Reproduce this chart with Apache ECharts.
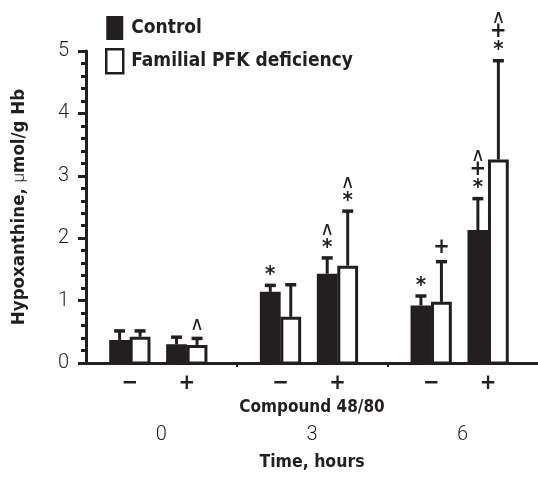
<!DOCTYPE html>
<html>
<head>
<meta charset="utf-8">
<script src="https://cdn.jsdelivr.net/npm/echarts@6/dist/echarts.min.js"></script>
<style>
html,body{margin:0;padding:0;background:#fff;}
#chart{width:538px;height:477px;}
</style>
</head>
<body>
<div id="chart"></div>
<script>
// ---- data ----
const timeLabels = ['0', '3', '6'];
const treatmentLabels = ['\u2212', '+'];
const yTickLabels = ['0', '1', '2', '3', '4', '5'];
const controlMean = [0.37, 0.30, 1.14, 1.43, 0.92, 2.13];
const controlErr  = [0.16, 0.13, 0.12, 0.27, 0.17, 0.52];
const pfkMean     = [0.42, 0.29, 0.74, 1.56, 0.98, 3.26];
const pfkErr      = [0.11, 0.12, 0.53, 0.89, 0.66, 1.60];
// significance marks, listed from bottom to top
const controlMarks = [[], [], ['*'], ['*', '^'], ['*'], ['*', '+', '^']];
const pfkMarks     = [[], ['^'], [], ['*', '^'], ['+'], ['*', '+', '^']];

// ---- layout constants ----
const FONT = '"Liberation Sans Narrow", "Arial Narrow", "DejaVu Sans Condensed", sans-serif';
const LIGHT = 'Roboto, "DejaVu Sans Condensed", sans-serif';
const INK = '#231f20';
const SUB_POS = [0.291, 0.669];   // position of -/+ inside each time group (group width = 1)
const BAR_HALF = 0.069;           // half bar width in axis units
const BAR_SHIFT = 0.068;          // control left, pfk right of sub position

function subPos(i) {
  return Math.floor(i / 2) + SUB_POS[i % 2];
}
function buildData(mean, err, shift) {
  return mean.map((v, i) => [subPos(i) + shift, v, err[i], i]);
}

function makeRender(marks, fill) {
  return function (params, api) {
    const x = api.value(0), y = api.value(1), e = api.value(2), idx = api.value(3);
    const p0 = api.coord([x - BAR_HALF, 0]);
    const p1 = api.coord([x + BAR_HALF, y]);
    const top = api.coord([x, y + e]);
    const cx = (p0[0] + p1[0]) / 2;
    const children = [
      {
        type: 'rect',
        shape: { x: p0[0] + 1.5, y: p1[1] + 1.5, width: p1[0] - p0[0] - 3, height: p0[1] - p1[1] - 1.5 },
        style: { fill: fill, stroke: INK, lineWidth: 3 }
      },
      {
        type: 'line',
        shape: { x1: cx, y1: p1[1], x2: cx, y2: top[1] },
        style: { stroke: INK, lineWidth: 3 }
      },
      {
        type: 'line',
        shape: { x1: cx - 5.5, y1: top[1] + 1, x2: cx + 5.5, y2: top[1] + 1 },
        style: { stroke: INK, lineWidth: 3.5 }
      }
    ];
    const m = marks[idx] || [];
    m.forEach((s, k) => {
      const isCaret = s === '^';
      children.push({
        type: 'text',
        style: {
          text: isCaret ? '\u2227' : s,
          x: cx,
          y: top[1] - 13 - k * 15 + (s === '*' ? 4 : 0) + (isCaret ? 1 : 0),
          align: 'center',
          verticalAlign: 'middle',
          fill: INK,
          fontFamily: isCaret ? '"DejaVu Sans", sans-serif' : FONT,
          fontWeight: isCaret ? 'normal' : 'bold',
          fontSize: isCaret ? 19 : 22
        }
      });
    });
    return { type: 'group', children: children };
  };
}

const chart = echarts.init(document.getElementById('chart'));
chart.setOption({
  backgroundColor: '#fff',
  animation: false,
  textStyle: { fontFamily: FONT, color: INK },
  grid: { left: 86, right: 0, top: 51, bottom: 114, containLabel: false },
  legend: {
    orient: 'vertical',
    left: 105,
    top: 16,
    padding: 0,
    itemWidth: 17,
    itemHeight: 24,
    itemGap: 8,
    icon: 'rect',
    textStyle: { fontFamily: FONT, fontWeight: 'bold', fontSize: 19, color: INK, padding: [0, 0, 0, 3] },
    data: [
      { name: 'Control', itemStyle: { color: INK, borderColor: INK, borderWidth: 0 } },
      { name: 'Familial PFK deficiency', itemStyle: { color: '#fff', borderColor: INK, borderWidth: 2.5 } }
    ]
  },
  xAxis: [
    {
      type: 'value',
      min: 0,
      max: 3,
      position: 'bottom',
      splitLine: { show: false },
      axisLine: { show: true, onZero: false, lineStyle: { color: INK, width: 3 } },
      axisTick: { show: true, customValues: [1, 2], length: 4, lineStyle: { color: INK, width: 2 } },
      axisLabel: {
        show: true,
        customValues: [0, 1, 2].flatMap(g => SUB_POS.map(s => g + s)),
        formatter: function (v) {
          const frac = v - Math.floor(v);
          return frac < 0.5 ? treatmentLabels[0] : treatmentLabels[1];
        },
        margin: 9,
        fontFamily: FONT,
        fontWeight: 'bold',
        fontSize: 22,
        color: INK
      },
      name: 'Compound 48/80',
      nameLocation: 'middle',
      nameGap: 36.5,
      nameTextStyle: { fontFamily: FONT, fontWeight: 'bold', fontSize: 17, color: INK }
    },
    {
      type: 'category',
      data: timeLabels,
      position: 'bottom',
      gridIndex: 0,
      axisLine: { show: false },
      axisTick: { show: false },
      axisLabel: { margin: 62, fontFamily: LIGHT, fontWeight: 300, fontSize: 20, color: INK },
      name: 'Time, hours',
      nameLocation: 'middle',
      nameGap: 90.5,
      nameTextStyle: { fontFamily: FONT, fontWeight: 'bold', fontSize: 17.5, color: INK }
    }
  ],
  yAxis: {
    type: 'value',
    min: 0,
    max: 5,
    interval: 1,
    splitLine: { show: false },
    axisLine: { show: true, lineStyle: { color: INK, width: 3 } },
    axisTick: { show: true, length: 8, lineStyle: { color: INK, width: 3 } },
    minorTick: { show: true, splitNumber: 5, length: 5, lineStyle: { color: INK, width: 3 } },
    axisLabel: {
      margin: 17,
      fontFamily: LIGHT,
      fontWeight: 300,
      fontSize: 20,
      color: INK,
      formatter: function (v) { return yTickLabels[Math.round(v)]; }
    },
    name: '{b|Hypoxanthine, }{m|\u03bc}{b|mol/g Hb}',
    nameLocation: 'middle',
    nameRotate: 90,
    nameGap: 57,
    nameTextStyle: {
      rich: {
        b: { fontFamily: FONT, fontWeight: 'bold', fontSize: 18.5, color: INK },
        m: { fontFamily: LIGHT, fontWeight: 300, fontSize: 17, color: INK }
      }
    }
  },
  series: [
    {
      name: 'Control',
      type: 'custom',
      xAxisIndex: 0,
      clip: false,
      itemStyle: { color: INK },
      encode: { x: 0, y: 1 },
      data: buildData(controlMean, controlErr, -BAR_SHIFT),
      renderItem: makeRender(controlMarks, INK)
    },
    {
      name: 'Familial PFK deficiency',
      type: 'custom',
      xAxisIndex: 0,
      clip: false,
      itemStyle: { color: '#fff', borderColor: INK, borderWidth: 2.5 },
      encode: { x: 0, y: 1 },
      data: buildData(pfkMean, pfkErr, BAR_SHIFT),
      renderItem: makeRender(pfkMarks, '#fff')
    }
  ]
});
</script>
</body>
</html>
